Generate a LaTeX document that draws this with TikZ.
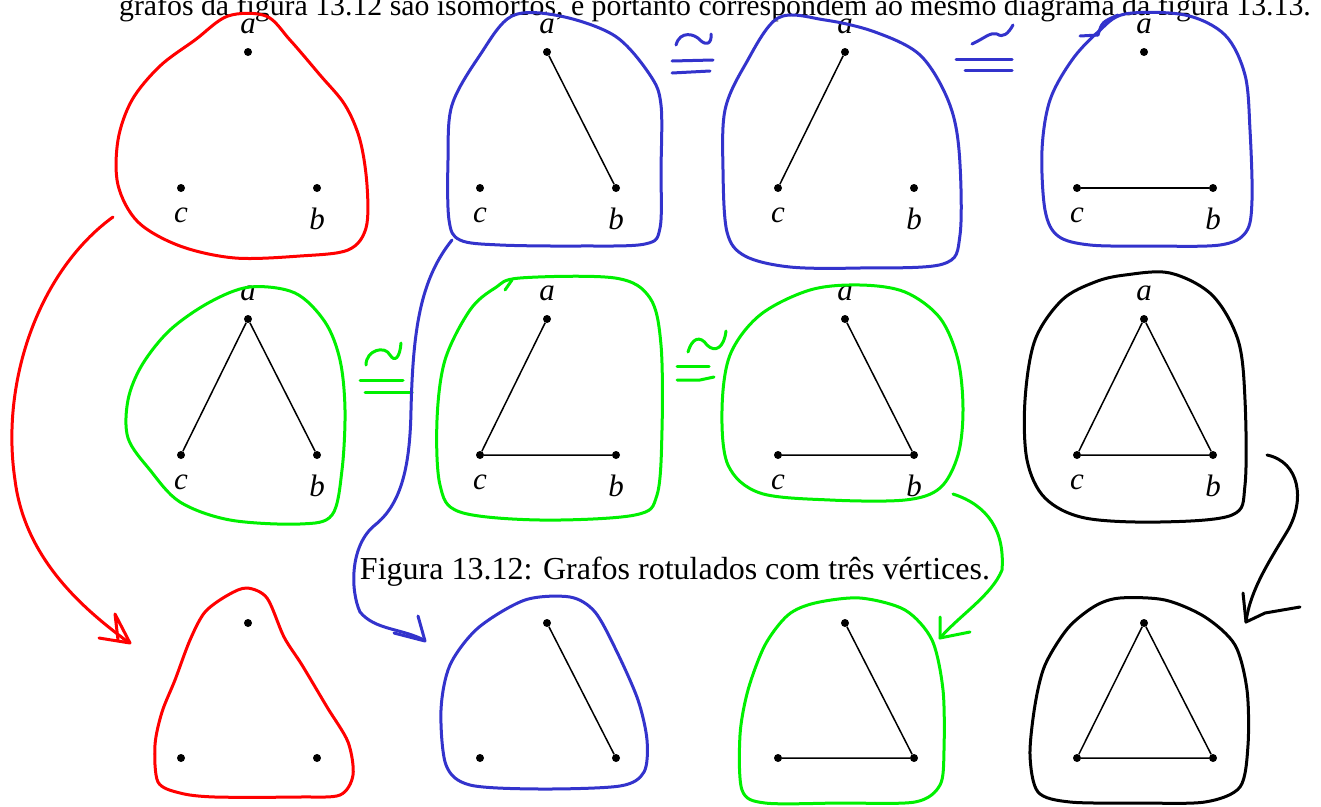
\documentclass[tikz,border=0pt]{standalone}
\usepackage{fontspec}
\setmainfont{Liberation Serif}
\definecolor{pred}{RGB}{255,0,0}
\definecolor{pblue}{RGB}{51,51,204}
\definecolor{pgreen}{RGB}{0,240,0}
\begin{document}
\begin{tikzpicture}[x=1pt,y=-1pt,
  dot/.style={circle,fill=black,inner sep=0pt,minimum size=8pt},
  edge/.style={line width=1.5pt},
  blob/.style={line width=3pt,line join=round,line cap=round},
  stroke/.style={line width=3pt,line cap=round,line join=round},
  lbl/.style={font=\fontsize{31}{36}\selectfont\itshape,anchor=base,inner sep=0pt},
  txt/.style={font=\fontsize{29.8}{34}\selectfont,anchor=base,inner sep=0pt},
  captxt/.style={font=\fontsize{32}{38}\selectfont,anchor=base,inner sep=0pt}]
\useasboundingbox (0,0) rectangle (1321,806);
\clip (0,0) rectangle (1321,806);
\fill[white] (0,0) rectangle (1321,806);

% texts
\node[txt] (top) at (715,15) {grafos da figura 13.12 são isomorfos, e portanto correspondem ao mesmo diagrama da figura 13.13.};
\node[captxt] (cap) at (675,579) {Figura 13.12: Grafos rotulados com três vértices.};

% vertices: rows 1 and 2 (labelled), row 3 (unlabelled)
\foreach \n/\x in {1/248,2/547,3/845,4/1144}{
  \pgfmathsetmacro{\cx}{\x-67}
  \pgfmathsetmacro{\bx}{\x+69}
  \node[dot] (g\n a) at (\x,52) {};
  \node[dot] (g\n c) at (\cx,188) {};
  \node[dot] (g\n b) at (\bx,188) {};
  \node[lbl] (l\n a) at (\x,33) {a};
  \node[lbl] (l\n c) at (\cx,222) {c};
  \node[lbl] (l\n b) at (\bx,229) {b};
}
\foreach \n/\x in {5/248,6/547,7/845,8/1144}{
  \pgfmathsetmacro{\cx}{\x-67}
  \pgfmathsetmacro{\bx}{\x+69}
  \node[dot] (g\n a) at (\x,319) {};
  \node[dot] (g\n c) at (\cx,455) {};
  \node[dot] (g\n b) at (\bx,455) {};
  \node[lbl] (l\n a) at (\x,300) {a};
  \node[lbl] (l\n c) at (\cx,489) {c};
  \node[lbl] (l\n b) at (\bx,496) {b};
}
\foreach \n/\x in {1/248,2/547,3/845,4/1144}{
  \pgfmathsetmacro{\cx}{\x-67}
  \pgfmathsetmacro{\bx}{\x+69}
  \node[dot] (h\n a) at (\x,623) {};
  \node[dot] (h\n c) at (\cx,758) {};
  \node[dot] (h\n b) at (\bx,758) {};
}

% edges
\draw[edge] (g2a) -- (g2b);
\draw[edge] (g3a) -- (g3c);
\draw[edge] (g4c) -- (g4b);
\draw[edge] (g5a) -- (g5c) (g5a) -- (g5b);
\draw[edge] (g6a) -- (g6c) (g6c) -- (g6b);
\draw[edge] (g7a) -- (g7b) (g7c) -- (g7b);
\draw[edge] (g8a) -- (g8c) (g8a) -- (g8b) (g8c) -- (g8b);
\draw[edge] (h2a) -- (h2b);
\draw[edge] (h3a) -- (h3b) (h3c) -- (h3b);
\draw[edge] (h4a) -- (h4c) (h4a) -- (h4b) (h4c) -- (h4b);

% blobs row 1
\draw[blob,pred] plot[smooth cycle,tension=0.55] coordinates {(228,16) (266,16) (290,40) (320,75) (345,105) (360,140) (367,185) (366,228) (348,250) (300,256) (235,258) (180,246) (138,222) (118,185) (118,140) (132,100) (160,66) (195,40)};
\draw[blob,pblue] plot[smooth cycle,tension=0.55] coordinates {(512,16) (560,16) (615,36) (650,75) (661,105) (661,170) (660,228) (645,244) (580,246) (500,245) (460,240) (449,220) (448,160) (452,105) (480,55)};
\draw[blob,pblue] plot[smooth cycle,tension=0.55] coordinates {(778,18) (825,20) (875,32) (920,55) (948,100) (959,150) (960,235) (943,264) (860,268) (790,267) (745,256) (727,232) (723,170) (725,110) (745,65)};
\draw[blob,pblue] plot[smooth cycle,tension=0.55] coordinates {(1125,14) (1185,15) (1225,35) (1245,75) (1250,130) (1252,200) (1246,232) (1220,245) (1150,246) (1090,245) (1058,236) (1045,210) (1042,150) (1050,100) (1072,60) (1098,32)};
\draw[stroke,pblue] (1080,36) -- (1098,35);
\draw[stroke,pblue] (1118,15) .. controls (1102,22) .. (1098,35);

% blobs row 2
\draw[blob,pgreen] plot[smooth cycle,tension=0.55] coordinates {(250,287) (295,293) (325,322) (340,360) (345,410) (342,470) (332,515) (300,524) (230,520) (180,502) (150,470) (128,438) (128,400) (142,365) (170,330) (210,302)};
\draw[blob,pgreen] plot[smooth cycle,tension=0.55] coordinates {(520,278) (615,278) (650,298) (661,345) (662,430) (657,495) (635,515) (540,520) (460,512) (440,485) (437,420) (445,360) (470,310) (495,288)};
\draw[stroke,pgreen] (505,290) -- (512,280);
\draw[blob,pgreen] plot[smooth cycle,tension=0.55] coordinates {(810,290) (860,285) (905,292) (940,318) (958,360) (963,410) (958,455) (940,488) (905,500) (830,500) (760,493) (728,465) (722,410) (730,355) (760,315)};
\draw[blob,black] plot[smooth cycle,tension=0.55] coordinates {(1125,275) (1170,273) (1212,295) (1238,340) (1245,400) (1245,485) (1232,515) (1160,522) (1085,518) (1045,498) (1027,460) (1025,400) (1035,340) (1062,300) (1095,282)};

% blobs row 3
\draw[blob,pred] plot[smooth cycle,tension=0.5] coordinates {(247,588) (267,598) (284,637) (302,665) (327,707) (348,742) (353,775) (340,795) (300,797) (215,797) (180,793) (158,782) (155,745) (162,712) (175,680) (190,640) (205,612) (228,595)};
\draw[blob,pblue] plot[smooth cycle,tension=0.5] coordinates {(525,600) (570,597) (595,612) (617,652) (638,700) (647,740) (644,772) (620,786) (540,789) (470,785) (446,765) (441,710) (450,665) (478,628)};
\draw[blob,pgreen] plot[smooth cycle,tension=0.5] coordinates {(815,603) (860,598) (905,610) (932,640) (943,690) (944,750) (940,785) (915,802) (840,803) (765,803) (742,790) (740,735) (748,690) (765,645) (788,615)};
\draw[blob,black] plot[smooth cycle,tension=0.5] coordinates {(1120,598) (1165,600) (1205,617) (1235,645) (1247,690) (1248,745) (1240,787) (1205,802) (1140,803) (1070,802) (1038,792) (1030,755) (1035,705) (1045,665) (1068,628) (1095,606)};

% iso signs
\draw[stroke,pblue] (676,45) .. controls (680,30) and (695,34) .. (700,40) .. controls (706,46) and (712,44) .. (711,34);
\draw[stroke,pblue] (672,61) -- (713,60);
\draw[stroke,pblue] (672,73) -- (710,71);
\draw[stroke,pblue] (972,44) .. controls (985,38) and (990,32) .. (997,34) .. controls (1003,38) and (1008,34) .. (1013,25);
\draw[stroke,pblue] (956,59) -- (1012,59);
\draw[stroke,pblue] (965,70) -- (1012,70);
\draw[stroke,pgreen] (366,365) .. controls (366,350) and (385,345) .. (390,355) .. controls (395,363) and (400,357) .. (401,343);
\draw[stroke,pgreen] (360,380) -- (403,380);
\draw[stroke,pgreen] (365,392) -- (412,392);
\draw[stroke,pgreen] (688,352) .. controls (692,338) and (700,335) .. (707,345) .. controls (715,353) and (724,348) .. (726,331);
\draw[stroke,pgreen] (677,366) -- (709,366);
\draw[stroke,pgreen] (677,380) -- (700,380) -- (714,377);

% arrows
\coordinate (ra) at (113,217);
\coordinate (rb) at (128,642);
\draw[stroke,pred] (ra) .. controls (40,270) and (0,380) .. (15,480) .. controls (25,560) and (85,610) .. (rb);
\draw[stroke,pred] (99,638) -- (130,643) -- (115,614) -- (118,640);
\coordinate (ba) at (452,240);
\coordinate (bb) at (424,640);
\draw[stroke,pblue] (ba) .. controls (420,280) and (413,330) .. (411,410) .. controls (410,470) and (400,505) .. (375,525) .. controls (350,545) and (350,590) .. (360,612) .. controls (375,630) and (400,628) .. (bb);
\draw[stroke,pblue] (418,616) -- (425,641) -- (394,633);
\coordinate (ga) at (953,494);
\coordinate (gb) at (940,638);
\draw[stroke,pgreen] (ga) .. controls (987,505) and (1005,530) .. (1002,570) .. controls (992,595) and (960,615) .. (gb);
\draw[stroke,pgreen] (940,617) -- (940,638) -- (970,632);
\coordinate (ka) at (1267,455);
\coordinate (kb) at (1246,622);
\draw[stroke,black] (ka) .. controls (1300,462) and (1305,500) .. (1288,530) .. controls (1270,560) and (1250,590) .. (kb);
\draw[stroke,black] (1243,593) -- (1246,622) -- (1265,613) -- (1300,607);
\end{tikzpicture}
\end{document}
